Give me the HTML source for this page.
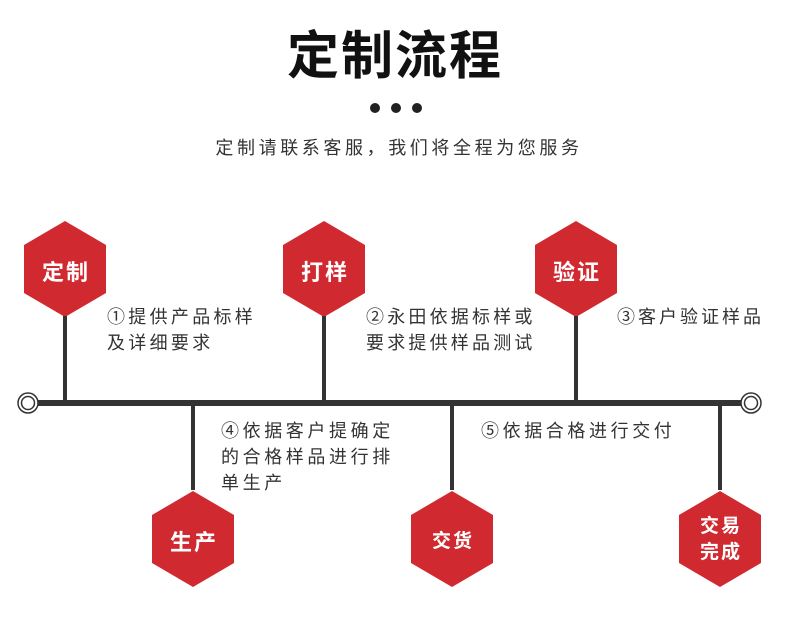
<!DOCTYPE html>
<html><head><meta charset="utf-8"><style>
body{margin:0;width:790px;height:637px;background:#fff;overflow:hidden;font-family:"Liberation Sans","Noto Sans CJK SC",sans-serif;color:#333}
.t{position:absolute;white-space:nowrap}
</style></head><body>
<svg width="790" height="637" style="position:absolute;left:0;top:0">
<g fill="#d12930">
<polygon points="65,221 106,245 106,293 65,317 24,293 24,245"/>
<polygon points="324,221 365,245 365,293 324,317 283,293 283,245"/>
<polygon points="576,221 617,245 617,293 576,317 535,293 535,245"/>
<polygon points="193,491 234,515 234,563 193,587 152,563 152,515"/>
<polygon points="452,491 493,515 493,563 452,587 411,563 411,515"/>
<polygon points="720,491 761,515 761,563 720,587 679,563 679,515"/>
</g>
<g stroke="#333" stroke-width="4">
<line x1="65" y1="316" x2="65" y2="403"/>
<line x1="324" y1="316" x2="324" y2="403"/>
<line x1="576" y1="316" x2="576" y2="403"/>
<line x1="193" y1="403" x2="193" y2="490"/>
<line x1="452" y1="403" x2="452" y2="490"/>
<line x1="720" y1="403" x2="720" y2="490"/>
</g>
<rect x="36" y="400" width="706" height="6" fill="#333"/>
<g fill="#fff" stroke="#333" stroke-width="1.5">
<circle cx="28" cy="403" r="10"/><circle cx="28" cy="403" r="6.5"/>
<circle cx="751" cy="403" r="10"/><circle cx="751" cy="403" r="6.5"/>
</g>
<g fill="#222"><circle cx="375" cy="108" r="5"/><circle cx="396" cy="108" r="5"/><circle cx="417" cy="108" r="5"/></g>
<g fill="#fff" font-weight="bold" font-family="Liberation Sans,Noto Sans CJK SC,sans-serif" text-anchor="middle" letter-spacing="2">
<text x="66" y="280" font-size="22">定制</text>
<text x="325" y="280" font-size="22">打样</text>
<text x="577" y="280" font-size="22">验证</text>
<text x="194" y="550" font-size="22">生产</text>
<text x="453" y="547" font-size="19">交货</text>
<text x="721" y="532" font-size="19">交易</text>
<text x="721" y="558" font-size="19">完成</text>
</g>
</svg>
<div class="t" style="left:0;width:790px;text-align:center;top:22px;font-size:52px;font-weight:bold;color:#111;letter-spacing:2px;line-height:70px">定制流程</div>
<div class="t" style="left:4px;width:790px;text-align:center;top:136px;font-size:18px;letter-spacing:3.6px;line-height:24px">定制请联系客服，我们将全程为您服务</div>
<div class="t" style="left:107px;top:304px;font-size:18px;letter-spacing:3.3px;line-height:26px">①提供产品标样<br>及详细要求</div>
<div class="t" style="left:366px;top:304px;font-size:18px;letter-spacing:3.2px;line-height:26px">②永田依据标样或<br>要求提供样品测试</div>
<div class="t" style="left:617px;top:304px;font-size:18px;letter-spacing:3px;line-height:26px">③客户验证样品</div>
<div class="t" style="left:221px;top:418px;font-size:18px;letter-spacing:3.6px;line-height:26px">④依据客户提确定<br>的合格样品进行排<br>单生产</div>
<div class="t" style="left:481px;top:418px;font-size:18px;letter-spacing:3.6px;line-height:26px">⑤依据合格进行交付</div>
</body></html>
